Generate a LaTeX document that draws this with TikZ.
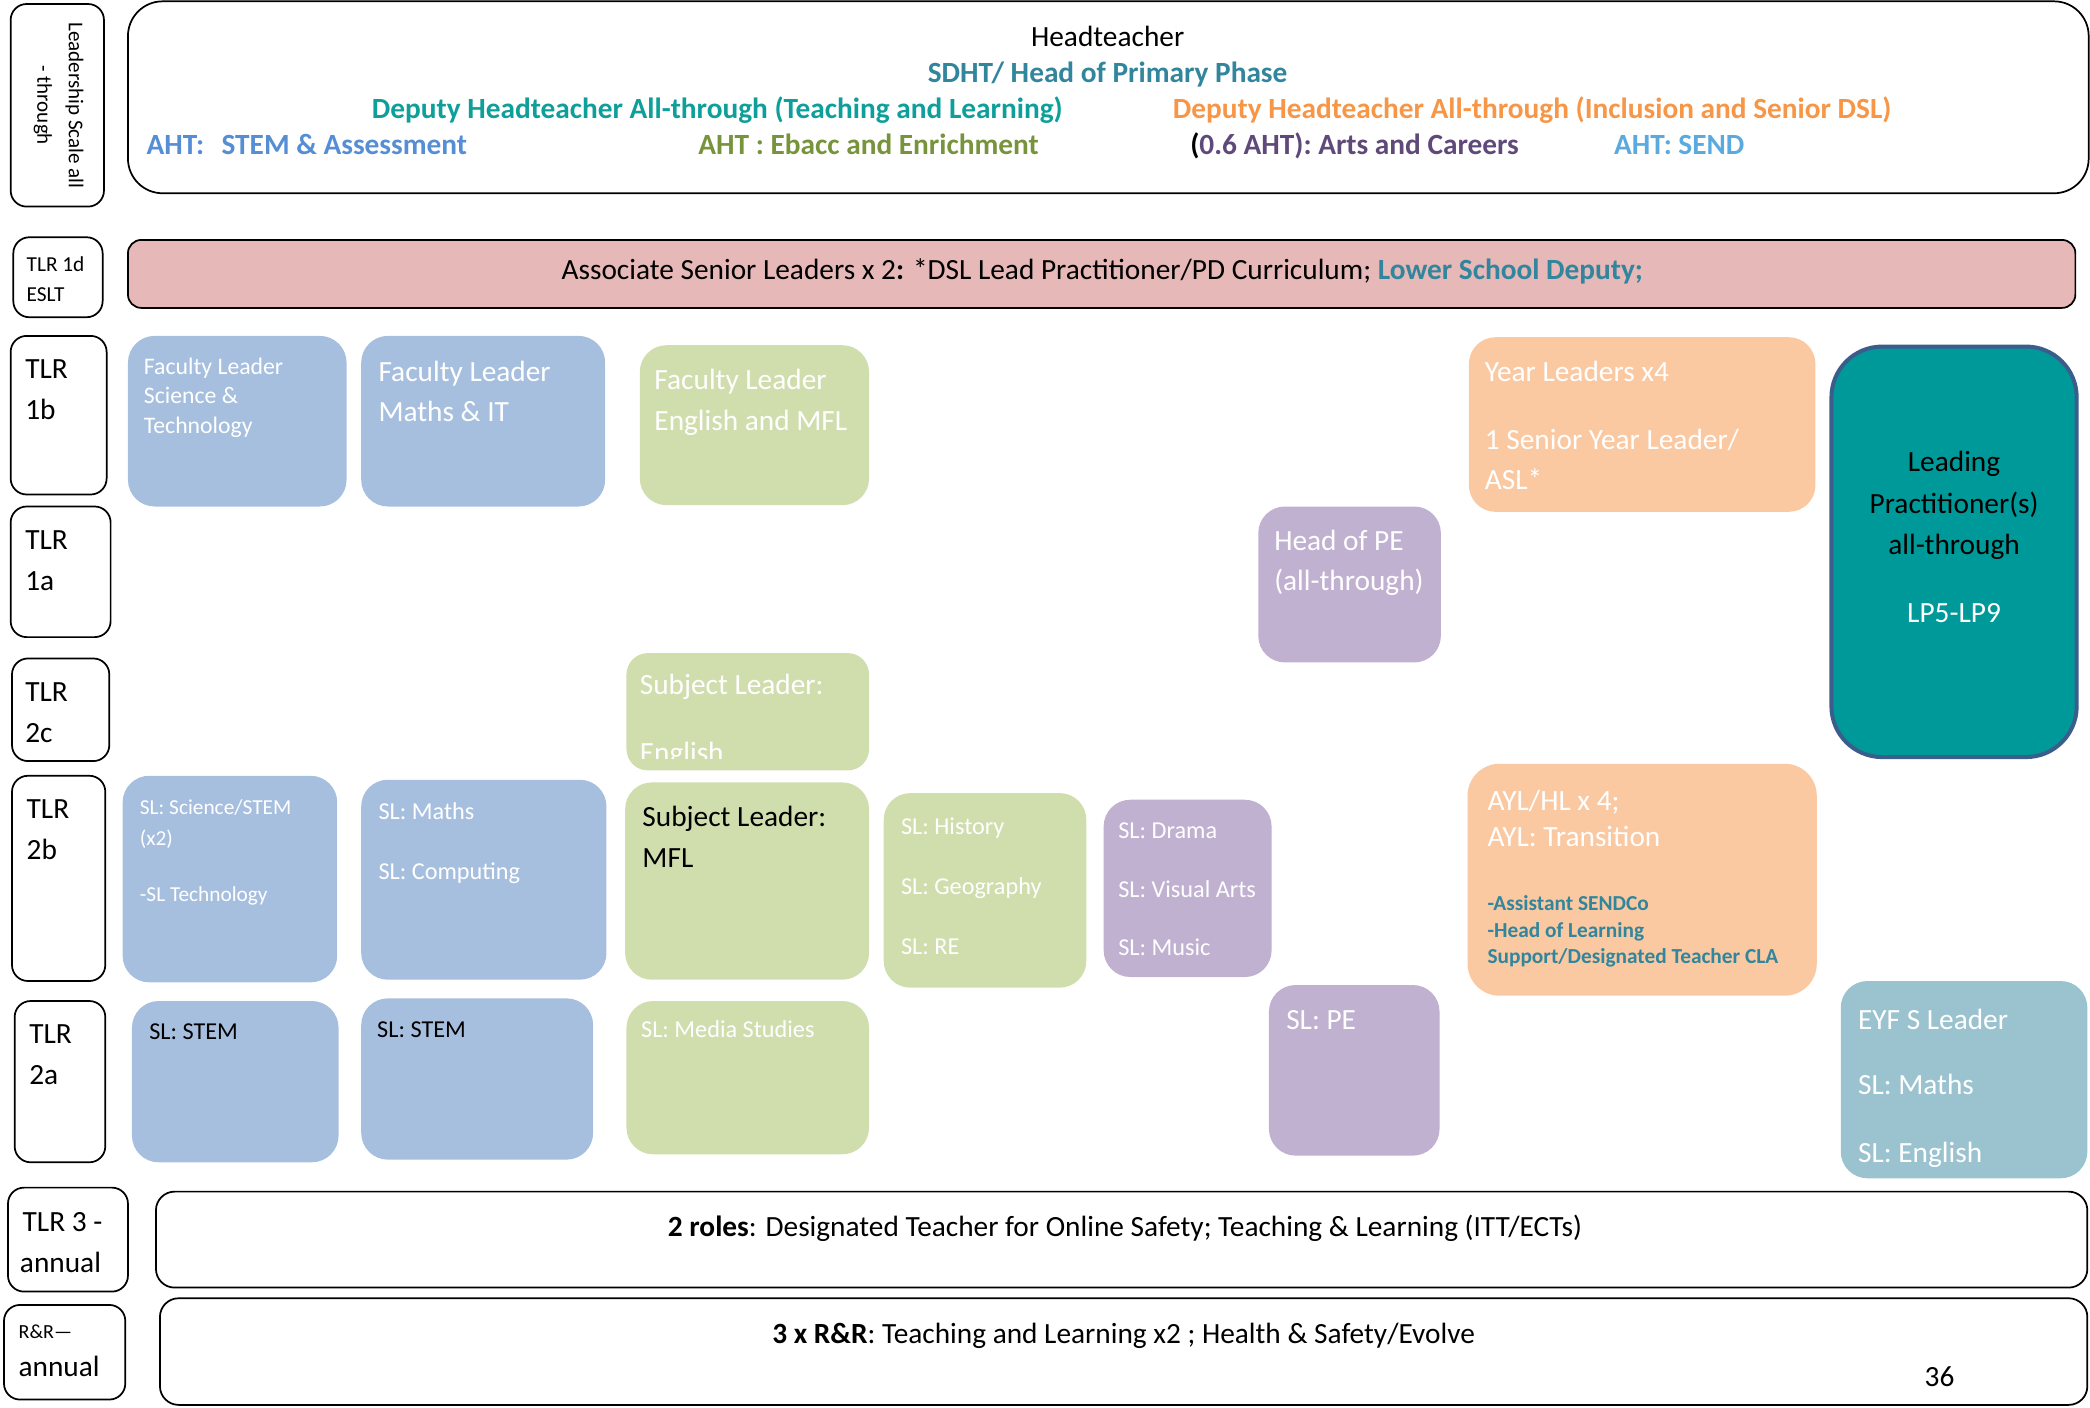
\documentclass[tikz,border=0pt]{standalone}
\usepackage{fontspec}
\setmainfont{Carlito}
\newcommand\fs[1]{\fontsize{#1}{#1}\selectfont}
\definecolor{cblue}{HTML}{A7BFDE}
\definecolor{cgreen}{HTML}{D0DEAE}
\definecolor{cpurple}{HTML}{C0B1D1}
\definecolor{corange}{HTML}{FAC9A2}
\definecolor{cteal}{HTML}{009999}
\definecolor{cteal2}{HTML}{9AC3CF}
\definecolor{lpborder}{HTML}{3B5D8C}
\definecolor{aslpink}{HTML}{E6B8B7}
\definecolor{sdht}{HTML}{31859C}
\definecolor{dhtl}{HTML}{0E9F9A}
\definecolor{dhinc}{HTML}{F79646}
\definecolor{ahtstem}{HTML}{558ED5}
\definecolor{ahtebacc}{HTML}{77933C}
\definecolor{ahtarts}{HTML}{5F497A}
\definecolor{ahtsend}{HTML}{5BAADF}
\tikzset{
  lbl/.style={draw=black, line width=1.3pt, rounded corners=12pt, anchor=north west, inner sep=0pt, outer sep=0pt},
  bigbox/.style={draw=black, line width=1.3pt, rounded corners=26pt, anchor=north west, inner sep=0pt, outer sep=0pt},
  cbox/.style={rounded corners=20pt, anchor=north west, inner sep=0pt, outer sep=0pt},
  txt/.style={anchor=base west, inner sep=0pt, outer sep=0pt},
  ctxt/.style={anchor=base, inner sep=0pt, outer sep=0pt},
  big/.style={font=\fs{22}},
  mid/.style={font=\fs{18.2}},
  sml/.style={font=\fs{16}},
  wt/.style={text=white},
}
\newcommand\bx[6]{\node[#1, minimum width={#5-#3}, minimum height={#6-#4}] (#2) at (#3,#4) {};}
\newcommand\tx[5]{\node[txt,#1] (#2) at (#3,#4) {#5};}
\begin{document}
\begin{tikzpicture}[x=1pt,y=-1pt]
\useasboundingbox (0,0) rectangle (1568,1056);

% ---------- left scale labels ----------
\bx{lbl}{lLead}{8}{3}{78}{155}
\node[rotate=-90, align=center, inner sep=0pt, font=\fontsize{15.8}{23.5}\selectfont] (tLead) at (44,79) {Leadership Scale all\\- through};
\bx{lbl}{l1d}{10}{178}{77}{238}
\tx{sml}{t1d1}{20}{204}{TLR 1d}
\tx{sml}{t1d2}{20}{226}{ESLT}
\bx{lbl}{l1b}{8}{252}{80}{371}
\tx{big}{t1b1}{19}{284}{TLR}
\tx{big}{t1b2}{19}{315}{1b}
\bx{lbl}{l1a}{8}{380}{83}{478}
\tx{big}{t1a1}{19}{412}{TLR}
\tx{big}{t1a2}{19}{443}{1a}
\bx{lbl}{l2c}{9}{494}{82}{571}
\tx{big}{t2c1}{19}{526}{TLR}
\tx{big}{t2c2}{19}{557}{2c}
\bx{lbl}{l2b}{9}{582}{79}{736}
\tx{big}{t2b1}{20}{614}{TLR}
\tx{big}{t2b2}{20}{645}{2b}
\bx{lbl}{l2a}{11}{751}{79}{872}
\tx{big}{t2a1}{22}{783}{TLR}
\tx{big}{t2a2}{22}{814}{2a}
\bx{lbl}{l3}{6}{891}{96}{969}
\tx{big}{t31}{17}{924}{TLR 3 -}
\tx{big}{t32}{15}{955}{annual}
\bx{lbl}{lRR}{3}{979}{94}{1050}
\tx{font=\fs{15}}{tRR1}{14}{1004}{R\&R—}
\tx{big}{tRR2}{14}{1033}{annual}

% ---------- leadership box ----------
\bx{bigbox}{lead}{96}{1}{1567}{145}
\node[ctxt, big] (head) at (831,35) {Headteacher};
\node[ctxt, text=sdht, font=\fs{22}\bfseries] (sdhtt) at (831,62) {SDHT/ Head of Primary Phase};
\tx{text=dhtl, font=\fs{22}\bfseries}{dhtlt}{279}{89}{Deputy Headteacher All-through (Teaching and Learning)}
\tx{text=dhinc, font=\fs{22}\bfseries}{dhinct}{880}{89}{Deputy Headteacher All-through (Inclusion and Senior DSL)}
\tx{text=ahtstem, font=\fs{22}\bfseries}{ahts}{110}{116}{AHT:\hspace{13pt}STEM \& Assessment}
\tx{text=ahtebacc, font=\fs{22}\bfseries}{ahte}{524}{116}{AHT : Ebacc and Enrichment}
\tx{text=ahtarts, font=\fs{22}\bfseries}{ahta}{893}{116}{\textcolor{black}{(}0.6 AHT): Arts and Careers}
\tx{text=ahtsend, font=\fs{22}\bfseries}{ahtd}{1211}{116}{AHT: SEND}

% ---------- associate senior leaders ----------
\bx{bigbox, fill=aslpink, rounded corners=10pt}{asl}{96}{180}{1557}{231}
\node[ctxt, big] (aslt) at (827,210) {Associate Senior Leaders x 2\textbf{:} *DSL Lead Practitioner/PD Curriculum; \textcolor{sdht}{\bfseries Lower School Deputy;}};

% ---------- TLR 1b / 1a ----------
\bx{cbox, fill=cblue}{fsci}{96}{252}{260}{380}
\tx{font=\fs{17.8}, wt}{fsci1}{108}{281}{Faculty Leader}
\tx{font=\fs{17.8}, wt}{fsci2}{108}{303}{Science \&}
\tx{font=\fs{17.8}, wt}{fsci3}{108}{325}{Technology}
\bx{cbox, fill=cblue}{fmat}{271}{252}{454}{380}
\tx{big, wt}{fmat1}{284}{286}{Faculty Leader}
\tx{big, wt}{fmat2}{284}{316}{Maths \& IT}
\bx{cbox, fill=cgreen}{feng}{480}{259}{652}{379}
\tx{big, wt}{feng1}{491}{292}{Faculty Leader}
\tx{big, wt}{feng2}{491}{323}{English and MFL}
\bx{cbox, fill=cpurple}{hpe}{944}{380}{1081}{497}
\tx{big, wt}{hpe1}{956}{413}{Head of PE}
\tx{big, wt}{hpe2}{956}{443}{(all-through)}
\bx{cbox, fill=corange}{yl}{1102}{253}{1362}{384}
\tx{big, wt}{yl1}{1114}{286}{Year Leaders x4}
\tx{big, wt}{yl2}{1114}{337}{1 Senior Year Leader/}
\tx{big, wt}{yl3}{1114}{367}{ASL*}
\bx{cbox, fill=cteal, draw=lpborder, line width=3pt, rounded corners=38pt}{lp}{1374}{260}{1558}{568}
\node[ctxt, big] (lp1) at (1466,354) {Leading};
\node[ctxt, big] (lp2) at (1466,385) {Practitioner(s)};
\node[ctxt, big] (lp3) at (1466,416) {all-through};
\node[ctxt, big, wt] (lp4) at (1466,467) {LP5-LP9};

% ---------- TLR 2c ----------
\bx{cbox, fill=cgreen, rounded corners=16pt}{sleng}{470}{490}{652}{578}
\tx{big, wt}{sleng1}{480}{521}{Subject Leader:}
\begin{scope}
  \clip (470,490) rectangle (652,569);
  \tx{big, wt}{sleng2}{480}{572}{English}
\end{scope}

% ---------- TLR 2b ----------
\bx{cbox, fill=cblue}{slsci}{92}{582}{253}{737}
\tx{sml, wt}{slsci1}{105}{611}{SL: Science/STEM}
\tx{sml, wt}{slsci2}{105}{634}{(x2)}
\tx{sml, wt}{slsci3}{105}{676}{-SL Technology}
\bx{cbox, fill=cblue}{slmat}{271}{585}{455}{735}
\tx{mid, wt}{slmat1}{284}{615}{SL: Maths}
\tx{mid, wt}{slmat2}{284}{660}{SL: Computing}
\bx{cbox, fill=cgreen}{slmfl}{469}{587}{652}{735}
\tx{big}{slmfl1}{482}{620}{Subject Leader:}
\tx{big}{slmfl2}{482}{651}{MFL}
\bx{cbox, fill=cgreen}{slhum}{663}{595}{815}{741}
\tx{mid, wt}{slhum1}{676}{626}{SL: History}
\tx{mid, wt}{slhum2}{676}{671}{SL: Geography}
\tx{mid, wt}{slhum3}{676}{716}{SL: RE}
\bx{cbox, fill=cpurple}{slart}{828}{600}{954}{733}
\tx{mid, wt}{slart1}{839}{629}{SL: Drama}
\tx{mid, wt}{slart2}{839}{673}{SL: Visual Arts}
\tx{mid, wt}{slart3}{839}{717}{SL: Music}
\bx{cbox, fill=corange, rounded corners=24pt}{ayl}{1101}{573}{1363}{747}
\tx{big, wt}{ayl1}{1116}{608}{AYL/HL x 4;}
\tx{big, wt}{ayl2}{1116}{635}{AYL: Transition}
\tx{font=\fs{16}\bfseries, text=sdht}{ayl3}{1116}{683}{-Assistant SENDCo}
\tx{font=\fs{16}\bfseries, text=sdht}{ayl4}{1116}{703}{-Head of Learning}
\tx{font=\fs{16}\bfseries, text=sdht}{ayl5}{1116}{723}{Support/Designated Teacher CLA}

% ---------- TLR 2a ----------
\bx{cbox, fill=cblue}{stem1}{99}{751}{254}{872}
\tx{mid}{stem1t}{112}{780}{SL: STEM}
\bx{cbox, fill=cblue}{stem2}{271}{749}{445}{870}
\tx{mid}{stem2t}{283}{778}{SL: STEM}
\bx{cbox, fill=cgreen}{media}{470}{751}{652}{866}
\tx{mid, wt}{mediat}{481}{778}{SL: Media Studies}
\bx{cbox, fill=cpurple}{slpe}{952}{739}{1080}{867}
\tx{big, wt}{slpet}{965}{772}{SL: PE}
\bx{cbox, fill=cteal2}{eyfs}{1381}{736}{1566}{884}
\tx{big, wt}{eyfs1}{1394}{772}{EYF S Leader}
\tx{big, wt}{eyfs2}{1394}{821}{SL: Maths}
\tx{big, wt}{eyfs3}{1394}{872}{SL: English}

% ---------- TLR 3 / R&R ----------
\bx{bigbox, rounded corners=14pt}{tlr3}{117}{894}{1566}{966}
\node[ctxt, big] (tlr3t) at (844,928) {\textbf{2 roles}: Designated Teacher for Online Safety; Teaching \& Learning (ITT/ECTs)};
\bx{bigbox, rounded corners=14pt}{rr}{120}{974}{1566}{1054}
\node[ctxt, big] (rrt) at (843,1008) {\textbf{3 x R\&R}: Teaching and Learning x2 ; Health \& Safety/Evolve};
\tx{big}{pagenum}{1444}{1040}{36}
\end{tikzpicture}
\end{document}
